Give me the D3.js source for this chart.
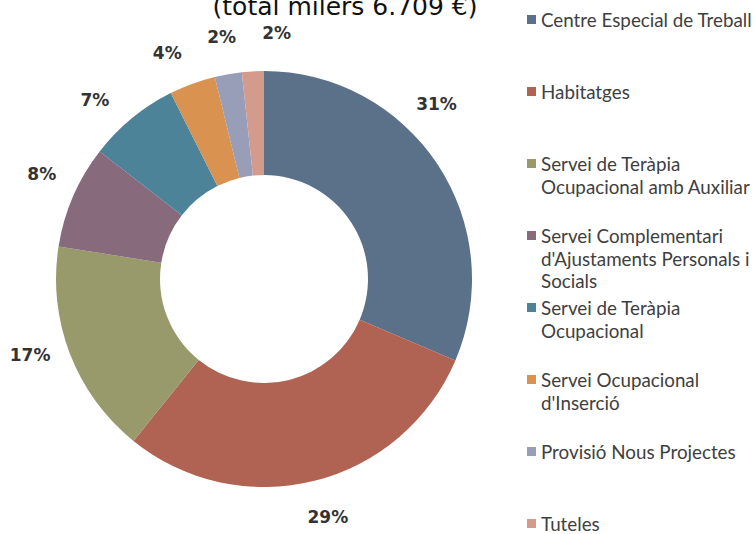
<!DOCTYPE html>
<html>
<head>
<meta charset="utf-8">
<script src="https://cdn.jsdelivr.net/npm/d3@7"></script>
<style>
  body { margin: 0; background: #fff; }
  svg { display: block; }
</style>
</head>
<body>
<div id="chart"></div>
<script>
// data (percent of total budget)
var categories = ["Centre Especial de Treball", "Habitatges", "Servei de Teràpia Ocupacional amb Auxiliar",
  "Servei Complementari d'Ajustaments Personals i Socials", "Servei de Teràpia Ocupacional",
  "Servei Ocupacional d'Inserció", "Provisió Nous Projectes", "Tuteles"];
var legendLines = [["Centre Especial de Treball"], ["Habitatges"], ["Servei de Teràpia", "Ocupacional amb Auxiliar"],
  ["Servei Complementari", "d'Ajustaments Personals i", "Socials"], ["Servei de Teràpia", "Ocupacional"],
  ["Servei Ocupacional", "d'Inserció"], ["Provisió Nous Projectes"], ["Tuteles"]];
var values = [31.4, 29.4, 16.7, 8.0, 7.1, 3.6, 2.1, 1.7];
var labels = ["31%", "29%", "17%", "8%", "7%", "4%", "2%", "2%"];
var colors = ["#5b7089", "#b06352", "#999a6c", "#886a7d", "#4c8399", "#d9924f", "#989eb8", "#d29b8b"];
var title = "(total milers 6.709 €)";

var width = 756, height = 534;
var cx = 264, cy = 279, outerR = 208, innerR = 104;

var svg = d3.select('#chart').append('svg')
    .attr('width', width)
    .attr('height', height);

// title, cut off at the top like the original
svg.append('text')
    .attr('x', 345)
    .attr('y', 15)
    .attr('text-anchor', 'middle')
    .style('font-family', '"DejaVu Sans", sans-serif')
    .style('font-size', '25px')
    .attr('fill', '#111')
    .text(title);

var pie = d3.pie().sort(null).value(function(d) { return d; });
var arcs = pie(values);

var arc = d3.arc().innerRadius(innerR).outerRadius(outerR);

var g = svg.append('g').attr('transform', 'translate(' + cx + ',' + cy + ')');

g.selectAll('.slice')
    .data(arcs)
    .enter()
    .append('path')
    .attr('class', 'slice')
    .attr('d', arc)
    .attr('fill', function(d, i) { return colors[i]; });

// labels sit outside the ring; small angle tweaks as in the hand-placed original
var labelR = 246;
var labelShift = [-12, -1, 3, 2, -4, -3, 0, 6];
g.selectAll('.lbl')
    .data(arcs)
    .enter()
    .append('text')
    .attr('class', 'lbl')
    .attr('x', function(d, i) {
        var a = (d.startAngle + d.endAngle) / 2 + labelShift[i] * Math.PI / 180;
        return labelR * Math.sin(a);
    })
    .attr('y', function(d, i) {
        var a = (d.startAngle + d.endAngle) / 2 + labelShift[i] * Math.PI / 180;
        return -labelR * Math.cos(a);
    })
    .attr('dy', '0.36em')
    .attr('text-anchor', 'middle')
    .style('font-family', '"DejaVu Sans", Verdana, sans-serif')
    .style('font-weight', 'bold')
    .style('font-size', '17px')
    .attr('fill', '#333')
    .text(function(d, i) { return labels[i]; });

// legend
var legendY = d3.scaleLinear().domain([0, categories.length - 1]).range([27, 531]);
var legend = svg.append('g').attr('class', 'legend');
var items = legend.selectAll('.item')
    .data(categories)
    .enter()
    .append('g')
    .attr('class', 'item')
    .attr('transform', function(d, i) { return 'translate(527,' + legendY(i) + ')'; });

items.append('rect')
    .attr('x', 0)
    .attr('y', -12)
    .attr('width', 9)
    .attr('height', 9)
    .attr('fill', function(d, i) { return colors[i]; });

items.append('text')
    .attr('x', 14)
    .style('font-family', 'Lato, "Open Sans", sans-serif')
    .style('font-size', '18.8px')
    .attr('fill', '#404040')
    .selectAll('tspan')
    .data(function(d, i) { return legendLines[i]; })
    .enter()
    .append('tspan')
    .attr('x', 14)
    .attr('y', function(d, j) { return j * 22.5; })
    .text(function(d) { return d; });
</script>
</body>
</html>
